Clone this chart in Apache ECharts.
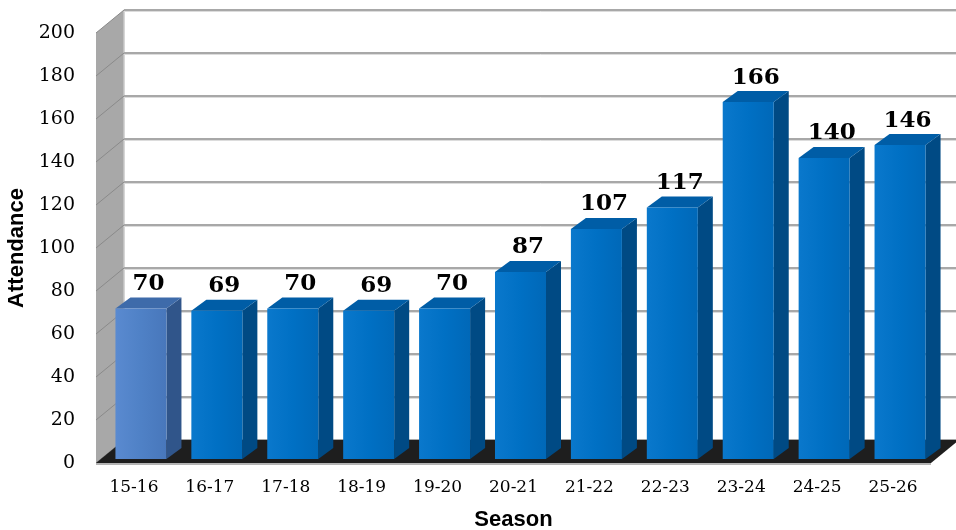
<!DOCTYPE html>
<html>
<head>
<meta charset="utf-8">
<script src="https://cdn.jsdelivr.net/npm/echarts@6/dist/echarts.min.js"></script>
<style>
html,body{margin:0;padding:0;background:#fff;overflow:hidden;}
#chart{width:956px;height:530px;}
</style>
</head>
<body>
<div id="chart"></div>
<script>
const categories = ['15-16','16-17','17-18','18-19','19-20','20-21','21-22','22-23','23-24','24-25','25-26'];
const attendance = [70,69,70,69,70,87,107,117,166,140,146];
const yTicks = [0,20,40,60,80,100,120,140,160,180,200];

const chart = echarts.init(document.getElementById('chart'));
const DEPTH_X = 28, DEPTH_Y = -23;

function wallsItem(params, api){
  const cs = params.coordSys;
  const y0 = api.coord([0,0])[1];
  const yMax = api.coord([0,200])[1];
  const xl = cs.x, xr = cs.x + cs.width;
  return {type:'group', children:[
    {type:'rect', shape:{x:xl+DEPTH_X, y:yMax+DEPTH_Y, width:xr-xl+40, height:y0-yMax}, style:{fill:'#ffffff'}},
    {type:'polygon', shape:{points:[[xl,y0],[xl+DEPTH_X,y0+DEPTH_Y],[xl+DEPTH_X,yMax+DEPTH_Y],[xl,yMax]]}, style:{fill:'#A8A8A8'}},
    {type:'line', shape:{x1:xl+DEPTH_X, y1:y0+DEPTH_Y, x2:xl+DEPTH_X, y2:yMax+DEPTH_Y}, style:{stroke:'#C8C8C8', lineWidth:1.5}}
  ]};
}

function gridItem(params, api){
  const cs = params.coordSys;
  const v = api.value(1);
  const y = api.coord([0,v])[1];
  const xl = cs.x, xr = cs.x + cs.width;
  return {type:'group', children:[
    {type:'line', shape:{x1:xl+DEPTH_X, y1:y+DEPTH_Y+1.5, x2:xr+DEPTH_X+40, y2:y+DEPTH_Y+1.5}, style:{stroke:'#DCDCDC', lineWidth:1}},
    {type:'line', shape:{x1:xl+DEPTH_X, y1:y+DEPTH_Y, x2:xr+DEPTH_X+40, y2:y+DEPTH_Y}, style:{stroke:'#A8A8A8', lineWidth:2}},
    {type:'line', shape:{x1:xl, y1:y, x2:xl+DEPTH_X, y2:y+DEPTH_Y}, style:{stroke:'#8A8A8A', lineWidth:1}}
  ]};
}

function floorItem(params, api){
  const cs = params.coordSys;
  const y0 = api.coord([0,0])[1];
  const xl = cs.x, xr = cs.x + cs.width;
  return {type:'group', children:[
    {type:'polygon', shape:{points:[[xl,y0],[xr,y0],[xr+DEPTH_X,y0+DEPTH_Y],[xl+DEPTH_X,y0+DEPTH_Y]]}, style:{fill:'#1E1E1E'}},
    {type:'line', shape:{x1:xl, y1:y0+1, x2:xr, y2:y0+1}, style:{stroke:'#9A9A9A', lineWidth:1.5}}
  ]};
}

function barItem(params, api){
  const i = api.value(0), v = api.value(1);
  const base = api.coord([i,0]);
  const top = api.coord([i,v]);
  const band = api.size([1,0])[0];
  const w = band*0.672;
  const dx = 15, dy = -11;
  const x0 = base[0] - w/2 + 7;
  const yb = base[1] - 4;
  const yt = top[1] - 4;
  const first = i === 0;
  const frontFill = first
    ? new echarts.graphic.LinearGradient(0,0,1,0,[{offset:0,color:'#5A8AD0'},{offset:0.5,color:'#4F81C6'},{offset:1,color:'#4877BB'}])
    : new echarts.graphic.LinearGradient(0,0,1,0,[{offset:0,color:'#0A78CC'},{offset:0.5,color:'#0070C4'},{offset:1,color:'#0068B8'}]);
  const sideFill = first ? '#30558A' : '#004A84';
  const topFill = first ? '#3E6BAA' : '#005DA6';
  return {type:'group', children:[
    {type:'polygon', shape:{points:[[x0+w,yt],[x0+w+dx,yt+dy],[x0+w+dx,yb+dy],[x0+w,yb]]}, style:{fill:sideFill}},
    {type:'polygon', shape:{points:[[x0,yt],[x0+dx,yt+dy],[x0+w+dx,yt+dy],[x0+w,yt]]}, style:{fill:topFill}},
    {type:'rect', shape:{x:x0, y:yt, width:w, height:yb-yt}, style:{fill:frontFill}},
    {type:'text', x:x0+(w+dx)/2, y:yt+dy-2, style:{text:String(v), fill:'#000', font:'bold 23px "DejaVu Serif"', align:'center', verticalAlign:'bottom'}}
  ]};
}

const option = {
  animation:false,
  backgroundColor:'#ffffff',
  grid:{left:96, top:33, width:835, height:430, containLabel:false, outerBoundsMode:'none'},
  xAxis:{
    type:'category', data:categories,
    axisLine:{show:false}, axisTick:{show:false},
    axisLabel:{color:'#000', fontFamily:'DejaVu Serif', fontSize:17, margin:16},
    name:'Season', nameLocation:'middle', nameGap:46,
    nameTextStyle:{color:'#000', fontFamily:'Liberation Sans', fontWeight:'bold', fontSize:22}
  },
  yAxis:{
    type:'value', min:0, max:200, interval:20,
    axisLine:{show:false}, axisTick:{show:false}, splitLine:{show:false},
    axisLabel:{color:'#000', fontFamily:'DejaVu Serif', fontSize:19, margin:21},
    name:'Attendance', nameLocation:'middle', nameGap:63,
    nameTextStyle:{color:'#000', fontFamily:'Liberation Sans', fontWeight:'bold', fontSize:22}
  },
  series:[
    {type:'custom', renderItem:wallsItem, data:[[0,0]], clip:false, silent:true, z:1},
    {type:'custom', renderItem:gridItem, data:yTicks.map(v=>[0,v]), clip:false, silent:true, z:2},
    {type:'custom', renderItem:floorItem, data:[[0,0]], clip:false, silent:true, z:3},
    {type:'custom', renderItem:barItem, data:attendance.map((v,i)=>[i,v]), clip:false, z:4}
  ]
};
chart.setOption(option);
</script>
</body>
</html>
